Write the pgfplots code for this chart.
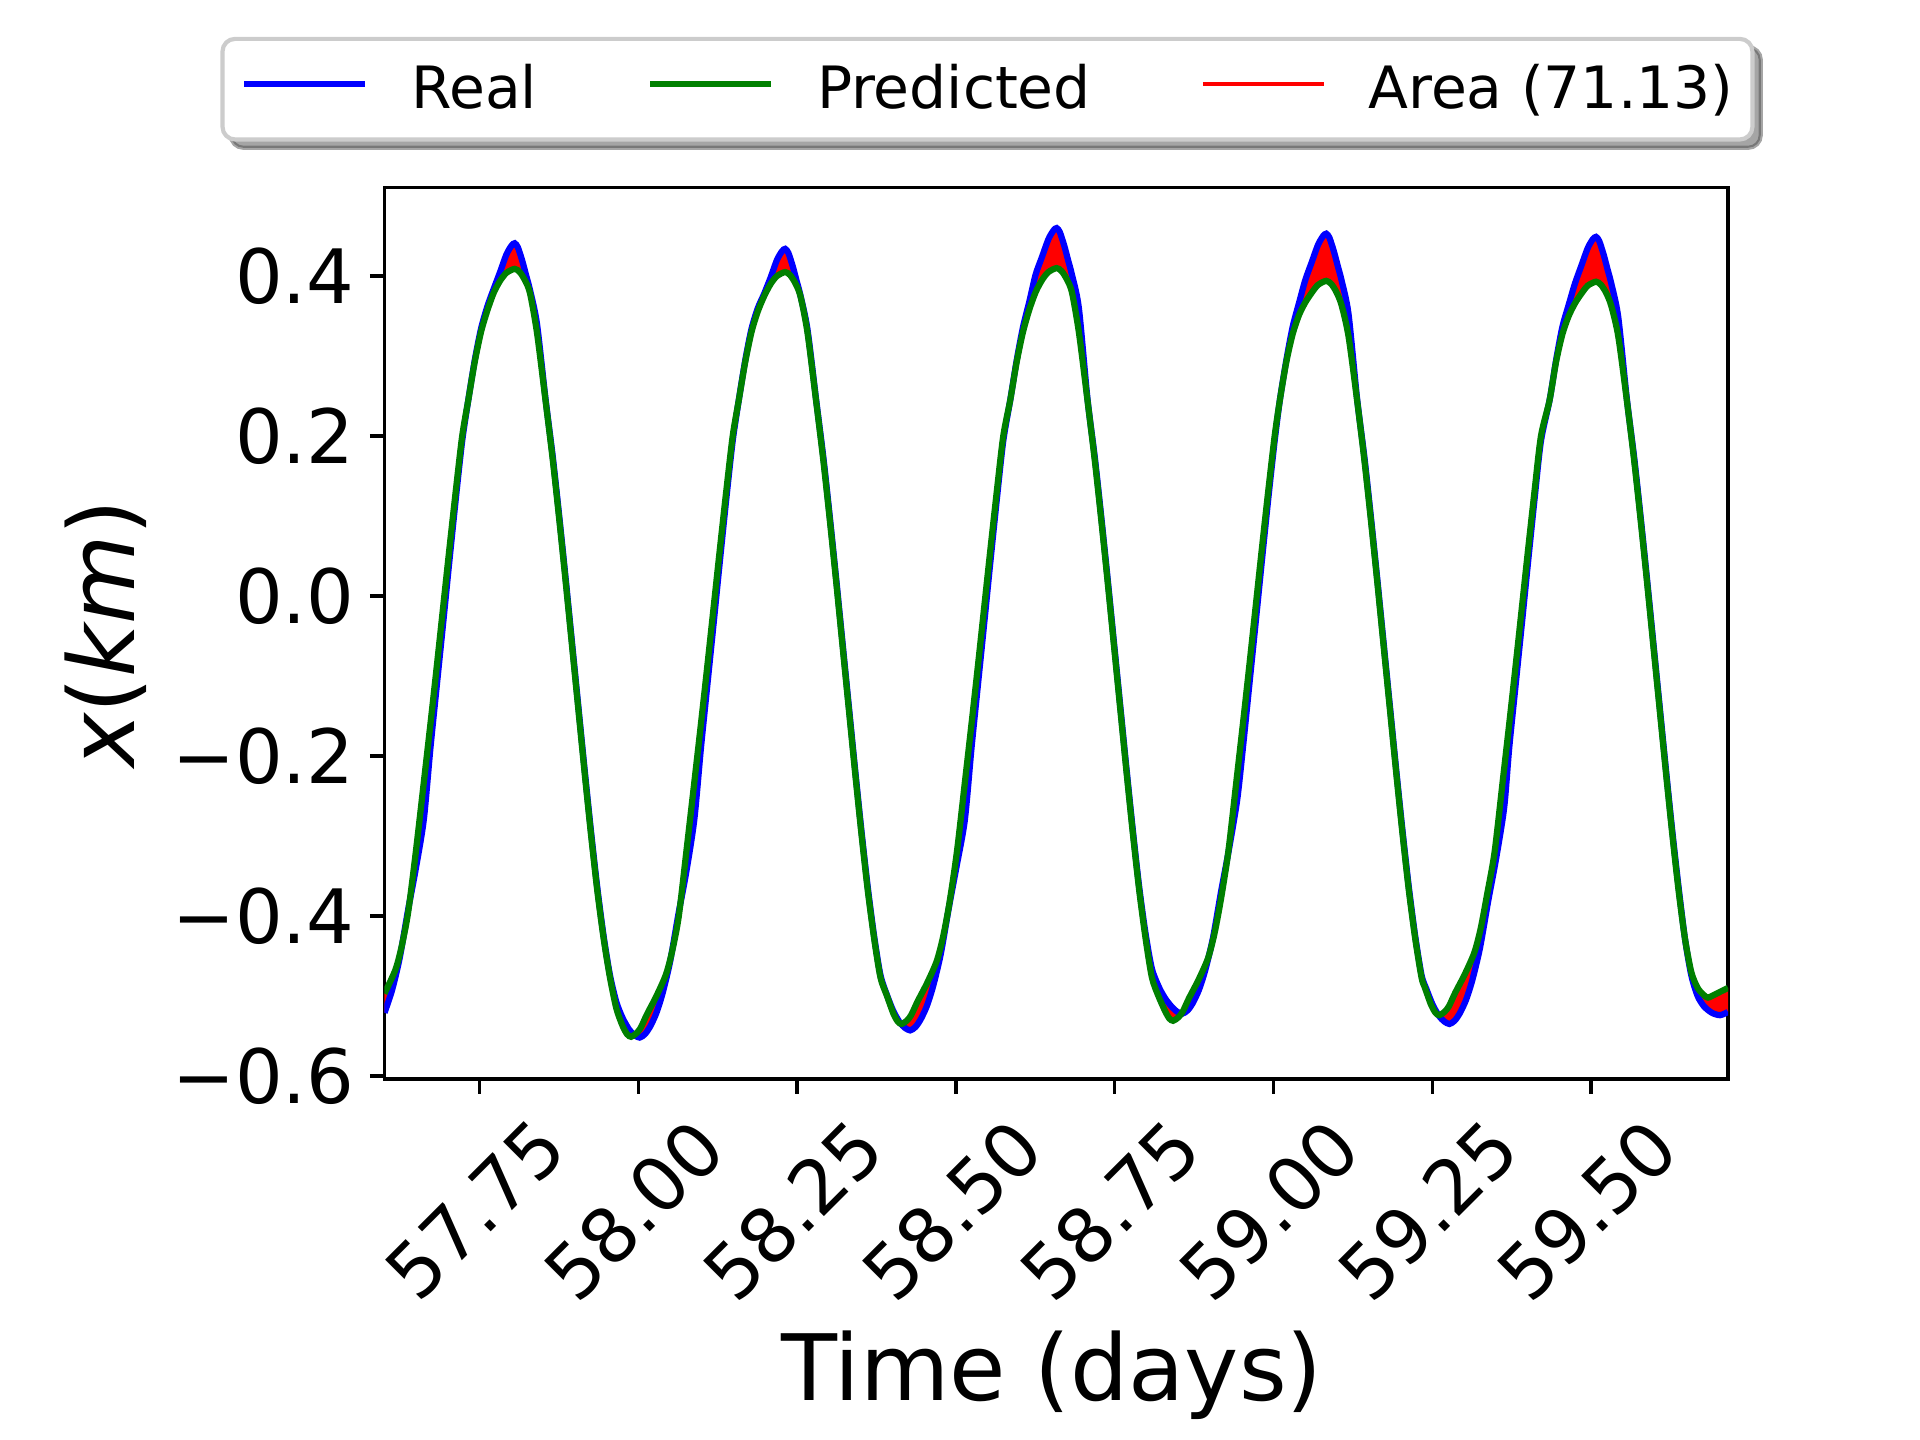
\documentclass[border=0pt]{standalone}
\usepackage{pgfplots}
\pgfplotsset{compat=1.18}
\usepackage{pgfplotstable}
\usepgfplotslibrary{fillbetween}
\usetikzlibrary{shadows}
\usepackage{fontspec}
\setmainfont{DejaVu Sans}
\definecolor{mplgreen}{RGB}{0,128,0}
\makeatletter
\tikzset{nopreactions/.code={\let\tikz@preactions\pgfutil@empty}}
\makeatother

\pgfplotstableread{
t v
57.6006 -0.521
57.6124 -0.493
57.6244 -0.453
57.6374 -0.394
57.6494 -0.343
57.6624 -0.280
57.6729 -0.190
57.6829 -0.112
57.6929 -0.034
57.7029 0.045
57.7129 0.122
57.7229 0.194
57.7325 0.245
57.7425 0.294
57.7525 0.334
57.7625 0.362
57.7725 0.384
57.7825 0.405
57.7925 0.427
57.8005 0.438
57.8055 0.441
57.8105 0.436
57.8175 0.419
57.8235 0.401
57.8295 0.383
57.8405 0.341
57.8540 0.247
57.8655 0.174
57.8755 0.101
57.8855 0.024
57.8955 -0.056
57.9055 -0.136
57.9155 -0.216
57.9255 -0.293
57.9355 -0.364
57.9455 -0.425
57.9555 -0.474
57.9657 -0.508
57.9757 -0.528
57.9857 -0.542
57.9942 -0.549
58.0022 -0.552
58.0102 -0.548
58.0182 -0.539
58.0282 -0.522
58.0382 -0.497
58.0502 -0.457
58.0632 -0.398
58.0752 -0.347
58.0882 -0.280
58.0987 -0.190
58.1087 -0.112
58.1187 -0.034
58.1287 0.045
58.1387 0.122
58.1487 0.194
58.1583 0.245
58.1683 0.294
58.1783 0.334
58.1883 0.360
58.1983 0.378
58.2083 0.398
58.2183 0.420
58.2263 0.431
58.2313 0.434
58.2363 0.429
58.2433 0.412
58.2493 0.394
58.2553 0.376
58.2663 0.334
58.2798 0.247
58.2913 0.174
58.3013 0.101
58.3113 0.024
58.3213 -0.056
58.3313 -0.136
58.3413 -0.216
58.3513 -0.293
58.3613 -0.364
58.3713 -0.425
58.3813 -0.474
58.3916 -0.499
58.4016 -0.519
58.4116 -0.533
58.4201 -0.540
58.4281 -0.543
58.4361 -0.539
58.4441 -0.530
58.4541 -0.513
58.4641 -0.488
58.4761 -0.448
58.4891 -0.389
58.5011 -0.338
58.5141 -0.280
58.5246 -0.190
58.5346 -0.112
58.5446 -0.034
58.5546 0.045
58.5646 0.122
58.5746 0.194
58.5856 0.245
58.5956 0.294
58.6056 0.336
58.6156 0.368
58.6256 0.402
58.6356 0.424
58.6456 0.446
58.6536 0.457
58.6586 0.460
58.6636 0.455
58.6706 0.438
58.6766 0.420
58.6826 0.402
58.6936 0.360
58.7071 0.247
58.7186 0.174
58.7286 0.101
58.7386 0.024
58.7486 -0.056
58.7586 -0.136
58.7686 -0.216
58.7786 -0.293
58.7886 -0.364
58.7986 -0.422
58.8086 -0.466
58.8203 -0.490
58.8303 -0.504
58.8403 -0.514
58.8488 -0.520
58.8568 -0.522
58.8648 -0.518
58.8728 -0.509
58.8828 -0.492
58.8928 -0.467
58.9048 -0.427
58.9178 -0.368
58.9298 -0.317
58.9428 -0.255
58.9518 -0.190
58.9618 -0.112
58.9718 -0.034
58.9818 0.045
58.9918 0.122
59.0018 0.194
59.0100 0.245
59.0200 0.294
59.0300 0.336
59.0400 0.366
59.0500 0.395
59.0600 0.417
59.0700 0.439
59.0780 0.450
59.0830 0.453
59.0880 0.448
59.0950 0.431
59.1010 0.413
59.1070 0.395
59.1180 0.353
59.1315 0.247
59.1430 0.174
59.1530 0.101
59.1630 0.024
59.1730 -0.056
59.1830 -0.136
59.1930 -0.216
59.2030 -0.293
59.2130 -0.364
59.2230 -0.425
59.2330 -0.474
59.2405 -0.491
59.2505 -0.511
59.2605 -0.525
59.2690 -0.532
59.2770 -0.535
59.2850 -0.531
59.2930 -0.522
59.3030 -0.505
59.3130 -0.480
59.3250 -0.440
59.3380 -0.381
59.3500 -0.330
59.3630 -0.265
59.3710 -0.190
59.3810 -0.112
59.3910 -0.034
59.4010 0.045
59.4110 0.122
59.4210 0.194
59.4346 0.245
59.4446 0.294
59.4546 0.336
59.4646 0.364
59.4746 0.391
59.4846 0.413
59.4946 0.435
59.5026 0.446
59.5076 0.449
59.5126 0.444
59.5196 0.427
59.5256 0.409
59.5316 0.391
59.5426 0.349
59.5561 0.247
59.5676 0.174
59.5776 0.101
59.5876 0.024
59.5976 -0.056
59.6076 -0.136
59.6176 -0.216
59.6276 -0.293
59.6376 -0.364
59.6476 -0.428
59.6576 -0.474
59.6676 -0.500
59.6776 -0.513
59.6900 -0.521
59.7030 -0.524
59.7154 -0.520
}\realtable

\pgfplotstableread{
t v
57.6006 -0.497
57.6179 -0.467
57.6279 -0.437
57.6379 -0.395
57.6499 -0.320
57.6629 -0.230
57.6729 -0.160
57.6829 -0.088
57.6929 -0.014
57.7029 0.060
57.7129 0.132
57.7229 0.200
57.7325 0.245
57.7425 0.292
57.7525 0.330
57.7625 0.357
57.7725 0.379
57.7825 0.394
57.7925 0.404
57.8055 0.409
57.8135 0.405
57.8215 0.395
57.8295 0.379
57.8405 0.330
57.8540 0.245
57.8655 0.170
57.8755 0.097
57.8855 0.020
57.8955 -0.060
57.9055 -0.140
57.9155 -0.220
57.9255 -0.297
57.9355 -0.368
57.9455 -0.428
57.9555 -0.477
57.9657 -0.516
57.9757 -0.538
57.9827 -0.548
57.9887 -0.551
57.9967 -0.547
58.0037 -0.540
58.0137 -0.523
58.0287 -0.500
58.0437 -0.473
58.0537 -0.443
58.0637 -0.401
58.0757 -0.320
58.0887 -0.230
58.0987 -0.160
58.1087 -0.088
58.1187 -0.014
58.1287 0.060
58.1387 0.132
58.1487 0.200
58.1583 0.245
58.1683 0.292
58.1783 0.330
58.1883 0.356
58.1983 0.375
58.2083 0.390
58.2183 0.400
58.2313 0.405
58.2393 0.401
58.2473 0.391
58.2553 0.375
58.2663 0.330
58.2798 0.245
58.2913 0.170
58.3013 0.097
58.3113 0.020
58.3213 -0.060
58.3313 -0.140
58.3413 -0.220
58.3513 -0.297
58.3613 -0.368
58.3713 -0.428
58.3813 -0.477
58.3916 -0.500
58.4016 -0.522
58.4086 -0.532
58.4146 -0.535
58.4226 -0.531
58.4296 -0.524
58.4396 -0.507
58.4546 -0.484
58.4696 -0.457
58.4796 -0.427
58.4896 -0.385
58.5016 -0.320
58.5146 -0.230
58.5246 -0.160
58.5346 -0.088
58.5446 -0.014
58.5546 0.060
58.5646 0.132
58.5746 0.200
58.5856 0.245
58.5956 0.292
58.6056 0.330
58.6156 0.358
58.6256 0.380
58.6356 0.395
58.6456 0.405
58.6586 0.410
58.6666 0.406
58.6746 0.396
58.6826 0.380
58.6936 0.330
58.7071 0.245
58.7186 0.170
58.7286 0.097
58.7386 0.020
58.7486 -0.060
58.7586 -0.140
58.7686 -0.220
58.7786 -0.297
58.7886 -0.368
58.7986 -0.428
58.8086 -0.477
58.8188 -0.500
58.8288 -0.518
58.8358 -0.528
58.8418 -0.531
58.8498 -0.527
58.8568 -0.520
58.8668 -0.503
58.8818 -0.480
58.8968 -0.453
58.9068 -0.423
58.9168 -0.381
58.9288 -0.320
58.9418 -0.230
58.9518 -0.160
58.9618 -0.088
58.9718 -0.014
58.9818 0.060
58.9918 0.132
59.0018 0.200
59.0100 0.245
59.0200 0.292
59.0300 0.327
59.0400 0.351
59.0500 0.367
59.0600 0.379
59.0700 0.389
59.0830 0.394
59.0910 0.390
59.0990 0.380
59.1070 0.364
59.1180 0.325
59.1315 0.245
59.1430 0.170
59.1530 0.097
59.1630 0.020
59.1730 -0.060
59.1830 -0.140
59.1930 -0.220
59.2030 -0.297
59.2130 -0.368
59.2230 -0.428
59.2330 -0.477
59.2380 -0.489
59.2480 -0.511
59.2550 -0.521
59.2610 -0.524
59.2690 -0.520
59.2760 -0.513
59.2860 -0.496
59.3010 -0.473
59.3160 -0.446
59.3260 -0.416
59.3360 -0.374
59.3480 -0.320
59.3610 -0.230
59.3710 -0.160
59.3810 -0.088
59.3910 -0.014
59.4010 0.060
59.4110 0.132
59.4210 0.200
59.4346 0.245
59.4446 0.292
59.4546 0.327
59.4646 0.350
59.4746 0.366
59.4846 0.378
59.4946 0.388
59.5076 0.393
59.5156 0.389
59.5236 0.379
59.5316 0.363
59.5426 0.325
59.5561 0.245
59.5676 0.170
59.5776 0.097
59.5876 0.020
59.5976 -0.060
59.6076 -0.140
59.6176 -0.220
59.6276 -0.297
59.6376 -0.368
59.6476 -0.428
59.6576 -0.470
59.6676 -0.490
59.6776 -0.499
59.6840 -0.502
59.6950 -0.498
59.7050 -0.494
59.7154 -0.490
}\predtable

\begin{document}
\begin{tikzpicture}
\begin{axis}[
  at={(0pt,0pt)}, anchor=south west,
  scale only axis,
  width=322.44pt, height=213.9pt,
  xmin=57.6006, xmax=59.7154,
  ymin=-0.6038, ymax=0.5104,
  axis line style={line width=0.8pt, black},
  tick align=outside,
  major tick length=3.5pt,
  every tick/.style={black, line width=0.8pt},
  xtick pos=left, ytick pos=left,
  xtick={57.75,58,58.25,58.5,58.75,59,59.25,59.5},
  xticklabels={57.75,58.00,58.25,58.50,58.75,59.00,59.25,59.50},
  ytick={-0.6,-0.4,-0.2,0,0.2,0.4},
  yticklabels={−0.6,−0.4,−0.2,0.0,0.2,0.4},
  tick label style={font=\fontsize{18}{21.6}\selectfont},
  yticklabel style={inner sep=0pt, anchor=east, xshift=-3.5pt},
  xticklabel style={inner sep=0pt, yshift=-27.9pt, xshift=-1pt, rotate=45, anchor=center},
  xlabel={Time (days)},
  xlabel style={font=\fontsize{22}{26.4}\selectfont, at={(axis description cs:0.4968,-0.3602)}, anchor=base, inner sep=0pt},
  ylabel={{\itshape x}({\itshape km})},
  ylabel style={font=\fontsize{22}{26.4}\selectfont, at={(axis description cs:-0.2072,0.5)}, anchor=center, inner sep=0pt},
  legend columns=3,
  legend cell align=left,
  legend image code/.code={
    \draw[nopreactions, #1] (0pt,1.2pt) -- (29pt,1.2pt);
    \path[nopreactions] (0pt,-3.8pt) (39.3pt,-3.8pt);
  },
  legend style={
    at={(-0.1221,1.1694)}, anchor=north west,
    font=\fontsize{14}{16.8}\selectfont,
    draw=black!20, line width=1pt, fill=white,
    rounded corners=3pt,
    inner xsep=4.5pt, inner ysep=6pt,
    nodes={inner sep=0pt},
    /tikz/every even column/.append style={column sep=26.4pt},
    drop shadow={shadow xshift=2pt, shadow yshift=-2pt, fill=black!70, draw=black!70, opacity=0.5},
  },
]
\addplot[draw=none, smooth, tension=0.45, name path=real, forget plot] table[x=t, y=v] {\realtable};
\addplot[draw=none, smooth, tension=0.45, name path=pred, forget plot] table[x=t, y=v] {\predtable};
\addplot[fill=red, draw=none, forget plot] fill between[of=real and pred];
\addplot[blue, line width=1.5pt, smooth, tension=0.45] table[x=t, y=v] {\realtable};
\addlegendentry{Real}
\addplot[mplgreen, line width=1.5pt, smooth, tension=0.45] table[x=t, y=v] {\predtable};
\addlegendentry{Predicted}
\addlegendimage{red, line width=0.9pt}
\addlegendentry{Area (71.13)}
\end{axis}
\path (-92.28pt,-86.64pt) rectangle (368.52pt,258.96pt);
\end{tikzpicture}
\end{document}
